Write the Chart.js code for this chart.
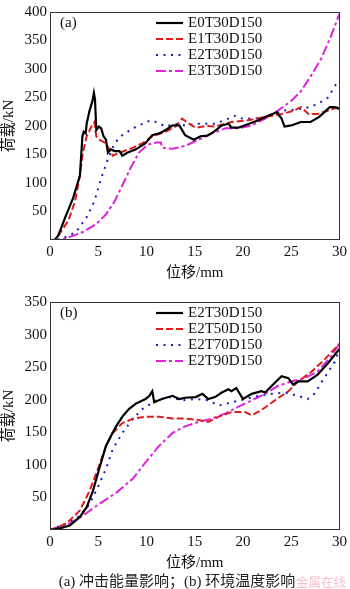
<!DOCTYPE html>
<html><head><meta charset="utf-8">
<script src="https://cdn.jsdelivr.net/npm/chart.js@4"></script>
<style>
html,body{margin:0;padding:0;background:#fff;width:350px;height:589px;overflow:hidden}
#c1,#c2{position:absolute;left:0}
#c1{top:0}#c2{top:290px}
#cap{position:absolute;left:0;width:354px;top:572px;text-align:center;font:15px/18px "Liberation Serif","Noto Sans CJK SC",serif;color:#222}
#wm{position:absolute;left:296px;top:574px;font:12.5px/16px "Noto Sans CJK SC",sans-serif;color:rgba(235,130,150,0.5)}
</style></head><body>
<canvas id="c1" width="350" height="290"></canvas>
<canvas id="c2" width="350" height="290"></canvas>
<div id="cap">(a) 冲击能量影响；(b) 环境温度影响</div>
<div id="wm">金属在线</div>
<script>
// ---------- data (a) ----------
const labelsA = ["E0T30D150","E1T30D150","E2T30D150","E3T30D150"];
const a0x=[0,0.5,0.86,1.7,2.4,3.1,3.36,3.5,3.7,3.8,4.1,4.4,4.55,4.66,4.8,5.07,5.3,5.55,5.8,6.0,6.3,6.7,7.2,7.5,8.0,8.9,9.9,10.6,11.3,12,12.7,13.4,14.0,14.9,15.6,16.3,17,17.8,18.5,18.8,19.5,20.5,21.6,22.6,23.5,24,24.3,25,26,27,27.9,29,29.5,30];
const a0y=[0,0,8,45,74,113,182,190,187,204,227,244,258,247,193,199,196,182,176,153,159,156,156,148,153,159,170,184,187,193,201,201,184,176,182,183,190,201,204,197,197,203,210,218,224,213,199,201,207,207,216,233,233,230];
const a1x=[0,0.5,1,1.9,2.6,3.1,3.4,3.8,4.3,4.6,4.8,5.1,5.8,6.5,7.2,8.6,9.6,10.6,12,13,13.7,14.4,15.1,16.1,17.1,18.8,20.5,22.3,24,25.3,26,26.8,27.7,29,30];
const a1y=[0,0,11,34,68,113,153,182,199,207,182,176,170,148,153,162,170,182,190,199,213,204,197,200,199,207,210,216,221,227,233,221,221,228,234];
const a2x=[0,1,1.7,2.7,3.8,4.6,5.3,6.0,6.7,7.5,8.6,9.6,10.4,11,12,13,14,15.4,17.1,18.5,19.2,19.9,21.6,23,24,25,26.4,27.7,28.8,29.6,30];
const a2y=[0,1,6,14,40,68,108,142,170,184,196,204,210,207,199,204,201,204,204,213,218,213,213,218,227,228,231,238,250,272,277];
const a3x=[0,1,1.7,3.4,4.8,5.8,6.7,7.5,8.4,9.2,10.1,11,11.5,11.6,12.7,14,15.4,16.8,18.2,19.5,20.9,22.3,23.6,25,26,27,28.1,29.1,30];
const a3y=[0,1,3,14,28,45,68,96,128,153,167,171,171,162,160,165,176,187,196,196,201,213,227,244,261,287,318,357,397];
// ---------- data (b) ----------
const labelsB = ["E2T30D150","E2T50D150","E2T70D150","E2T90D150"];
const b0x=[0,1,2.05,3.1,3.8,4.45,5.1,5.8,6.3,6.85,7.5,8.2,8.9,9.9,10.3,10.6,10.8,11.6,12.7,13.4,14,15.1,15.8,16.4,17.1,17.8,18.5,18.8,19.3,20,20.9,21.9,22.3,23.3,24,24.7,25.2,25.7,26.7,27.7,28.8,30];
const b0y=[0,2.5,7,20,35,60,94,129,144,159,174,186,194,201,206,213,196,201,206,201,203,204,209,201,204,211,216,213,218,201,209,213,211,226,236,233,223,228,228,238,256,278];
const b1x=[0,1.7,3.1,4.1,5.1,5.8,6.5,7.5,8.6,9.9,11.3,12.7,14,15.4,16.4,17.5,18.8,20.2,20.9,21.9,23.3,24.7,25.7,27.1,28.4,30];
const b1y=[0,10,30,60,99,129,149,164,171,174,174,171,171,169,166,174,181,181,176,184,199,213,228,243,261,286];
const b2x=[0,1.7,3.1,4.1,5.1,5.8,6.5,7.5,8.6,9.6,11,12.3,13.7,15.1,16.4,17.5,18.8,20.2,21.6,23,24.3,25.7,26.7,27.4,28.4,29.5,30];
const b2y=[0,10,22,40,70,94,124,149,171,186,199,204,199,201,199,191,196,201,206,209,211,206,201,209,233,258,278];
const b3x=[0,1.7,3.4,5.1,6.85,8.6,9.9,11.3,12.7,14,15.4,16.8,18.2,19.5,20.9,22.3,23.6,25,26.4,27.7,29.1,30];
const b3y=[0,7,22,40,57,79,104,129,149,159,166,171,179,189,199,209,221,228,233,243,266,286];
const xTicks=[0,5,10,15,20,25,30];
const xTitle="位移/mm", yTitle="荷载/kN";

const colors=["#000000","#dd1c1c","#1a1ac0","#dd22dd"];
const dashes=[[],[7,3],[2,5.5],[10,3,3,3]];
const widths=[2.2,2,2,2];
const FONT='"Liberation Serif","Noto Sans CJK SC",serif';

function mk(xs,ys){return xs.map((x,i)=>({x:x,y:ys[i]}));}

const innerLegend={id:'innerLegend',afterDraw(chart,args,opts){
  const ctx=chart.ctx;ctx.save();
  ctx.font='15px '+FONT;ctx.fillStyle='#111';ctx.textBaseline='middle';ctx.textAlign='left';
  ctx.fillText(opts.panel,60,23);
  chart.data.datasets.forEach((d,i)=>{
    const y=23+i*16;
    ctx.beginPath();ctx.strokeStyle=d.borderColor;ctx.lineWidth=d.borderWidth;ctx.setLineDash(d.borderDash||[]);
    ctx.moveTo(156,y);ctx.lineTo(183,y);ctx.stroke();
    ctx.setLineDash([]);ctx.fillStyle='#111';
    ctx.fillText(d.label,188,y+0.5);
  });
  const a=chart.chartArea;ctx.strokeStyle='#333';ctx.lineWidth=1;
  ctx.strokeRect(Math.round(a.left)+0.5,Math.round(a.top)+0.5,Math.round(a.right-a.left)-1,Math.round(a.bottom-a.top)-1);
  ctx.restore();
}};

function build(id,labels,series,ymax,ystep,panel){
  const ds=series.map((s,i)=>({label:labels[i],data:mk(s[0],s[1]),borderColor:colors[i],backgroundColor:colors[i],
    borderWidth:widths[i],borderDash:dashes[i],pointRadius:0,tension:0,fill:false}));
  new Chart(document.getElementById(id),{type:'line',data:{datasets:ds},plugins:[innerLegend],
    options:{responsive:false,animation:false,events:[],
      layout:{padding:{left:0,right:8,top:5,bottom:0}},
      plugins:{legend:{display:false},tooltip:{enabled:false},innerLegend:{panel:panel}},
      scales:{
        x:{type:'linear',min:0,max:30,grid:{display:false,drawTicks:false},border:{display:false},
          afterBuildTicks(s){s.ticks=xTicks.map(v=>({value:v}));},
          afterFit(s){s.height=50;},
          ticks:{color:'#111',font:{family:FONT,size:15},padding:3,maxRotation:0,autoSkip:false},
          title:{display:true,text:xTitle,color:'#111',font:{family:FONT,size:15},padding:{top:0,bottom:8}}},
        y:{min:0,max:ymax,grid:{display:false,drawTicks:false},border:{display:false},
          afterFit(s){s.width=50;},
          ticks:{stepSize:ystep,color:'#111',font:{family:FONT,size:15},padding:3,callback:v=>v===0?'':v},
          title:{display:true,text:yTitle,color:'#111',font:{family:FONT,size:15},padding:{top:0,bottom:0}}}
      }}});
}
build('c1',labelsA,[[a0x,a0y],[a1x,a1y],[a2x,a2y],[a3x,a3y]],400,50,'(a)');
build('c2',labelsB,[[b0x,b0y],[b1x,b1y],[b2x,b2y],[b3x,b3y]],350,50,'(b)');
</script></body></html>
